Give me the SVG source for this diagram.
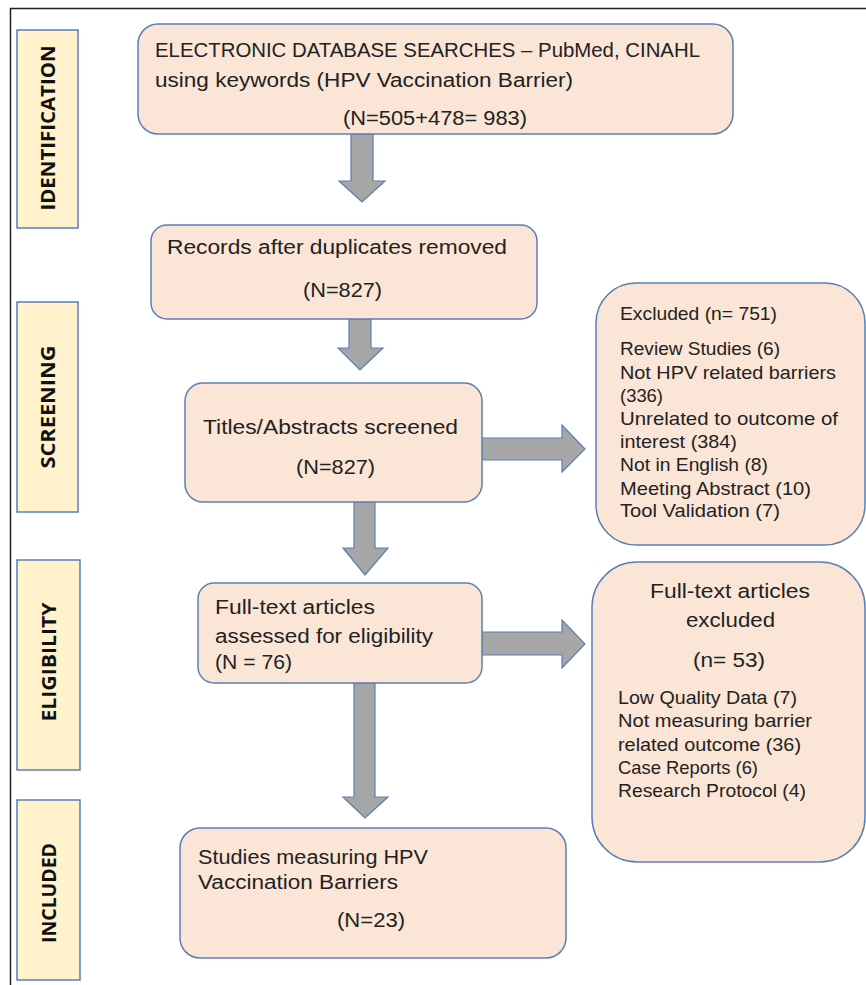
<svg xmlns="http://www.w3.org/2000/svg" width="866" height="985" viewBox="0 0 866 985">
<style>
.node{fill:#fbe5d6;stroke:#5b7fb5;stroke-width:1.5}
.lab{fill:#fff2cc;stroke:#5b7fb5;stroke-width:1.5}
.arr{fill:#a6a6a6;stroke:#5b7fb5;stroke-width:1.2}
.t{font-family:"Liberation Sans",Arial,sans-serif;font-size:20px;fill:#222}
.s{font-size:19px}
.c{text-anchor:middle}
.lt{font-family:"Open Sans","DejaVu Sans",sans-serif;font-weight:bold;font-size:20px;fill:#111;text-anchor:middle}
</style>
<rect x="0" y="0" width="866" height="985" fill="#fff"/>
<path d="M10.5 985 V8.5 H866" fill="none" stroke="#222" stroke-width="1.5"/>

<g id="label-identification"><rect class="lab" x="17" y="30" width="61" height="198"/><text class="lt" transform="translate(55,128) rotate(-90)" textLength="165" lengthAdjust="spacingAndGlyphs">IDENTIFICATION</text></g>
<g id="label-screening"><rect class="lab" x="17" y="302" width="61" height="210"/><text class="lt" transform="translate(55,407) rotate(-90)" textLength="123" lengthAdjust="spacingAndGlyphs">SCREENING</text></g>
<g id="label-eligibility"><rect class="lab" x="17" y="560" width="63" height="210"/><text class="lt" transform="translate(56,662) rotate(-90)" textLength="119" lengthAdjust="spacingAndGlyphs">ELIGIBILITY</text></g>
<g id="label-included"><rect class="lab" x="17" y="800" width="63" height="180"/><text class="lt" transform="translate(56,893) rotate(-90)" textLength="100" lengthAdjust="spacingAndGlyphs">INCLUDED</text></g>

<g id="connectors">
<polygon class="arr" points="351,134 373,134 373,181 385,181 362,202 339,181 351,181"/>
<polygon class="arr" points="349,319 371,319 371,348 383,348 360,370 338,348 349,348"/>
<polygon class="arr" points="354,502 375,502 375,548 388,548 365,575 343,548 354,548"/>
<polygon class="arr" points="354,683 375,683 375,797 388,797 365,818 343,797 354,797"/>
<polygon class="arr" points="482,438 562,438 562,425 585,449 562,472 562,460 482,460"/>
<polygon class="arr" points="482,632 562,632 562,620 585,644 562,668 562,655 482,655"/>
</g>

<g id="n-search"><rect class="node" x="138" y="24" width="595" height="110" rx="20"/>
<text class="t" x="155" y="57" textLength="545" lengthAdjust="spacingAndGlyphs">ELECTRONIC DATABASE SEARCHES – PubMed, CINAHL</text>
<text class="t" x="155" y="87" textLength="418" lengthAdjust="spacingAndGlyphs">using keywords (HPV Vaccination Barrier)</text>
<text class="t" x="343" y="125" textLength="184" lengthAdjust="spacingAndGlyphs">(N=505+478= 983)</text></g>

<g id="n-dup"><rect class="node" x="151" y="225" width="386" height="94" rx="16"/>
<text class="t" x="167" y="254" textLength="340" lengthAdjust="spacingAndGlyphs">Records after duplicates removed</text>
<text class="t" x="303" y="297" textLength="79" lengthAdjust="spacingAndGlyphs">(N=827)</text></g>

<g id="n-screen"><rect class="node" x="185" y="383" width="297" height="119" rx="18"/>
<text class="t" x="203" y="434" textLength="255" lengthAdjust="spacingAndGlyphs">Titles/Abstracts screened</text>
<text class="t" x="296" y="474" textLength="79" lengthAdjust="spacingAndGlyphs">(N=827)</text></g>

<g id="n-excl1"><rect class="node" x="596" y="283" width="269" height="262" rx="40"/>
<text class="t s" x="620" y="320" textLength="157" lengthAdjust="spacingAndGlyphs">Excluded (n= 751)</text>
<text class="t s" x="620" y="355" textLength="160" lengthAdjust="spacingAndGlyphs">Review Studies (6)</text>
<text class="t s" x="620" y="379" textLength="216" lengthAdjust="spacingAndGlyphs">Not HPV related barriers</text>
<text class="t s" x="620" y="402" textLength="43" lengthAdjust="spacingAndGlyphs">(336)</text>
<text class="t s" x="620" y="425" textLength="218" lengthAdjust="spacingAndGlyphs">Unrelated to outcome of</text>
<text class="t s" x="620" y="448" textLength="117" lengthAdjust="spacingAndGlyphs">interest (384)</text>
<text class="t s" x="620" y="471" textLength="148" lengthAdjust="spacingAndGlyphs">Not in English (8)</text>
<text class="t s" x="620" y="495" textLength="191" lengthAdjust="spacingAndGlyphs">Meeting Abstract (10)</text>
<text class="t s" x="620" y="517" textLength="160" lengthAdjust="spacingAndGlyphs">Tool Validation (7)</text></g>

<g id="n-full"><rect class="node" x="198" y="583" width="284" height="100" rx="16"/>
<text class="t" x="215" y="614" textLength="160" lengthAdjust="spacingAndGlyphs">Full-text articles</text>
<text class="t" x="215" y="643" textLength="218" lengthAdjust="spacingAndGlyphs">assessed for eligibility</text>
<text class="t" x="215" y="669" textLength="77" lengthAdjust="spacingAndGlyphs">(N = 76)</text></g>

<g id="n-excl2"><rect class="node" x="592" y="562" width="273" height="300" rx="45"/>
<text class="t" x="650" y="598" textLength="160" lengthAdjust="spacingAndGlyphs">Full-text articles</text>
<text class="t" x="686" y="627" textLength="89" lengthAdjust="spacingAndGlyphs">excluded</text>
<text class="t" x="693" y="667" textLength="72" lengthAdjust="spacingAndGlyphs">(n= 53)</text>
<text class="t s" x="618" y="704" textLength="179" lengthAdjust="spacingAndGlyphs">Low Quality Data (7)</text>
<text class="t s" x="618" y="727" textLength="194" lengthAdjust="spacingAndGlyphs">Not measuring barrier</text>
<text class="t s" x="618" y="751" textLength="183" lengthAdjust="spacingAndGlyphs">related outcome (36)</text>
<text class="t s" x="618" y="774" textLength="140" lengthAdjust="spacingAndGlyphs">Case Reports (6)</text>
<text class="t s" x="618" y="797" textLength="188" lengthAdjust="spacingAndGlyphs">Research Protocol (4)</text></g>

<g id="n-incl"><rect class="node" x="180" y="828" width="386" height="130" rx="20"/>
<text class="t" x="198" y="864" textLength="230" lengthAdjust="spacingAndGlyphs">Studies measuring HPV</text>
<text class="t" x="198" y="889" textLength="200" lengthAdjust="spacingAndGlyphs">Vaccination Barriers</text>
<text class="t" x="337" y="927" textLength="68" lengthAdjust="spacingAndGlyphs">(N=23)</text></g>
</svg>
